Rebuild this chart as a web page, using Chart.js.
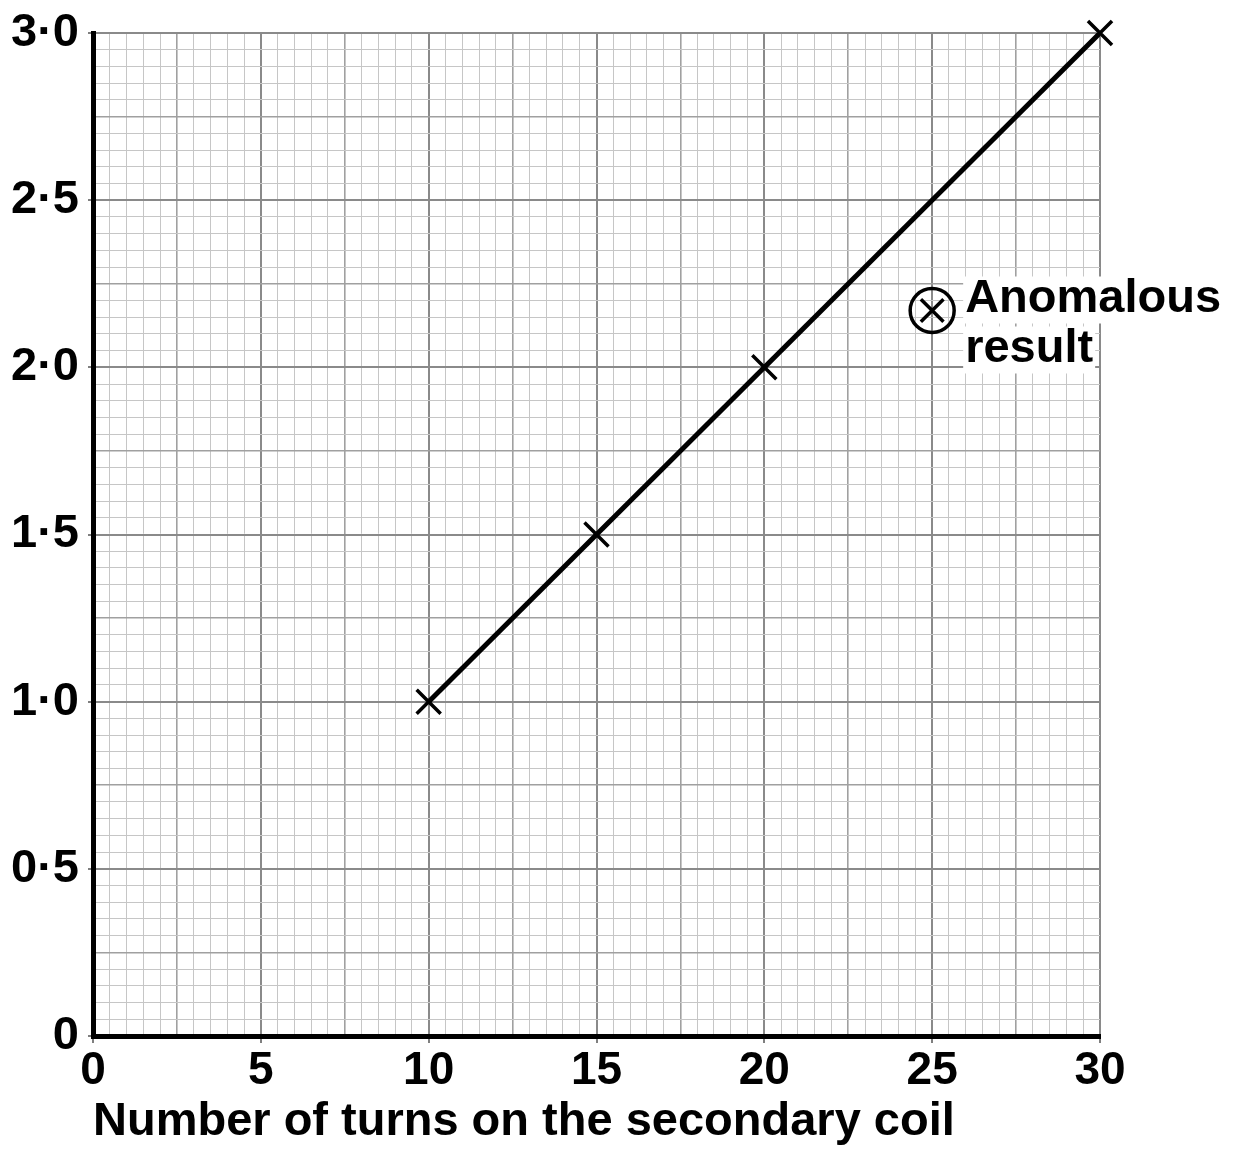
<!DOCTYPE html>
<html>
<head>
<meta charset="utf-8">
<script src="https://cdn.jsdelivr.net/npm/chart.js@4"></script>
<style>
  body { margin: 0; background: #fff; }
  canvas { display: block; }
</style>
</head>
<body>
<canvas id="myChart" width="1234" height="1151"></canvas>
<script>
// readings taken off the graph
const turns = [10, 15, 20, 30];
const voltage = [1.0, 1.5, 2.0, 3.0];

// the odd one out
const anomTurns = [25];
const anomVoltage = [2.17];

// best fit line ends
const fitTurns = [10, 30];
const fitVoltage = [1.0, 3.0];

const xLabels = [0, 5, 10, 15, 20, 25, 30];
const yLabels = ['0', '0·5', '1·0', '1·5', '2·0', '2·5', '3·0'];

const anomText = ['Anomalous', 'result'];

const FONT = '"Liberation Sans", Arial, sans-serif';

function pairs(xs, ys) {
    return xs.map((x, i) => ({ x: x, y: ys[i] }));
}

// graph paper: fine every small square, darker each 5, darkest each 10
function gridLevel(i) {
    if (i % 10 === 0) return 2;
    if (i % 5 === 0) return 1;
    return 0;
}
const gridColours = ['#c6c6c6', '#a0a0a0', '#8a8a8a'];
const gridWidths = [1, 1.6, 2];

const annotate = {
    id: 'annotate',
    afterDatasetsDraw(chart) {
        const ctx = chart.ctx;
        const px = chart.scales.x.getPixelForValue(anomTurns[0]);
        const py = chart.scales.y.getPixelForValue(anomVoltage[0]);
        ctx.save();
        ctx.font = 'bold 47px ' + FONT;
        ctx.textBaseline = 'alphabetic';
        const left = px + 33;
        const lines = [py + 2, py + 52];
        anomText.forEach((t, i) => {
            const w = ctx.measureText(t).width;
            ctx.fillStyle = '#fff';
            ctx.fillRect(left - 2, lines[i] - 36, w + 4, 47);
        });
        ctx.fillStyle = '#000';
        anomText.forEach((t, i) => ctx.fillText(t, left, lines[i]));
        ctx.restore();
    }
};

new Chart(document.getElementById('myChart'), {
    type: 'scatter',
    data: {
        datasets: [
            {
                data: pairs(fitTurns, fitVoltage),
                showLine: true,
                borderColor: '#000',
                borderWidth: 5,
                pointRadius: 0
            },
            {
                data: pairs(turns, voltage),
                pointStyle: 'crossRot',
                pointRadius: 17,
                borderColor: '#000',
                borderWidth: 3.5,
                clip: false
            },
            {
                data: pairs(anomTurns, anomVoltage),
                pointStyle: 'crossRot',
                pointRadius: 16,
                borderColor: '#000',
                borderWidth: 3.5
            },
            {
                data: pairs(anomTurns, anomVoltage),
                pointStyle: 'circle',
                pointRadius: 22,
                backgroundColor: 'rgba(0,0,0,0)',
                borderColor: '#000',
                borderWidth: 3.5
            }
        ]
    },
    options: {
        responsive: false,
        animation: false,
        layout: { padding: { top: 33, right: 134, left: 0, bottom: 0 } },
        plugins: {
            legend: { display: false },
            tooltip: { enabled: false }
        },
        scales: {
            x: {
                type: 'linear',
                min: 0,
                max: 30,
                afterFit: s => { s.height = 115; },
                ticks: {
                    stepSize: 0.5,
                    autoSkip: false,
                    maxRotation: 0,
                    padding: 1,
                    color: '#000',
                    font: { family: FONT, size: 46, weight: 'bold' },
                    callback: v => {
                        const i = xLabels.indexOf(v);
                        return i >= 0 ? String(xLabels[i]) : '';
                    }
                },
                grid: {
                    color: c => gridColours[gridLevel(Math.round(c.tick.value * 2))],
                    lineWidth: c => gridWidths[gridLevel(Math.round(c.tick.value * 2))],
                    tickColor: c => gridLevel(Math.round(c.tick.value * 2)) === 2 ? '#555' : 'rgba(0,0,0,0)',
                    tickLength: 7,
                    tickWidth: 1.5
                },
                border: { color: '#000', width: 5 },
                title: {
                    display: true,
                    text: 'Number of turns on the secondary coil',
                    color: '#000',
                    align: 'start',
                    font: { family: FONT, size: 47, weight: 'bold', lineHeight: 1 },
                    padding: { top: 0, bottom: 5 }
                }
            },
            y: {
                type: 'linear',
                min: 0,
                max: 3,
                afterFit: s => { s.width = 93; },
                ticks: {
                    stepSize: 0.05,
                    autoSkip: false,
                    padding: 9,
                    color: '#000',
                    font: { family: FONT, size: 47, weight: 'bold', lineHeight: 1 },
                    callback: v => {
                        const i = Math.round(v * 20);
                        return i % 10 === 0 ? yLabels[i / 10] : '';
                    }
                },
                grid: {
                    color: c => gridColours[gridLevel(Math.round(c.tick.value * 20))],
                    lineWidth: c => gridWidths[gridLevel(Math.round(c.tick.value * 20))],
                    tickColor: c => gridLevel(Math.round(c.tick.value * 20)) === 2 ? '#555' : 'rgba(0,0,0,0)',
                    tickLength: 5,
                    tickWidth: 1.5
                },
                border: { color: '#000', width: 5 }
            }
        }
    },
    plugins: [annotate]
});
</script>
</body>
</html>
